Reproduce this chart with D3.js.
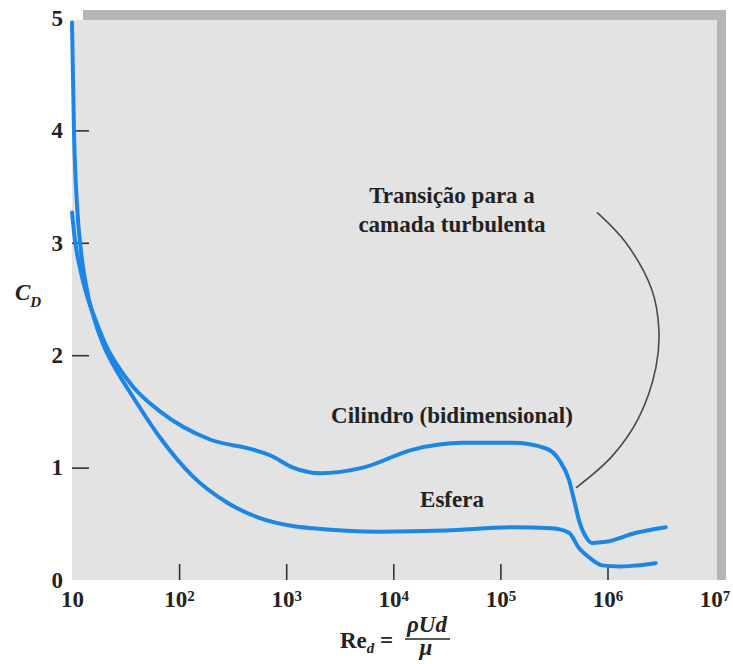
<!DOCTYPE html>
<meta charset="utf-8">
<body style="margin:0;background:#fff">
<svg id="chart" width="733" height="664"></svg>
<script src="https://cdnjs.cloudflare.com/ajax/libs/d3/7.8.5/d3.min.js"></script>
<script>

// values (Re_d, C_D)
var cylRe = [10, 10.67, 11.9, 13.8, 16.8, 20.7, 26.9, 37.1, 66.3, 194, 490, 706, 1157, 2070, 5210, 15300, 44700, 131000, 267000, 353000, 437000, 488000, 542000, 631000, 718000, 968000, 1850000, 3500000]
var cylCd = [3.27, 3.02, 2.77, 2.53, 2.30, 2.09, 1.90, 1.72, 1.50, 1.25, 1.16, 1.11, 1.0, 0.95, 1.0, 1.16, 1.22, 1.22, 1.17, 1.07, 0.89, 0.71, 0.53, 0.38, 0.33, 0.34, 0.42, 0.47]

var sphRe = [10, 10.44, 11.13, 12.14, 13.8, 16.4, 20.3, 25.8, 34.8, 66, 135, 280, 569, 1150, 1780, 7400, 31000, 129000, 302000, 437000, 537000, 676000, 891000, 1290000, 1860000, 2820000]
var sphCd = [4.96, 3.98, 3.34, 2.92, 2.58, 2.30, 2.06, 1.87, 1.67, 1.27, 0.92, 0.69, 0.55, 0.48, 0.46, 0.43, 0.44, 0.47, 0.46, 0.42, 0.29, 0.20, 0.13, 0.12, 0.13, 0.15]

// the thin pointer from the "transition" note down to the cylinder curve
var noteRe = [798000, 1486000, 2600000, 3020000, 2830000, 1970000, 1100000, 508000]
var noteCd = [3.27, 3.0, 2.58, 2.22, 1.89, 1.45, 1.10, 0.82]

var xTicks = [10, 1e2, 1e3, 1e4, 1e5, 1e6, 1e7]
var xExp = ['', '2', '3', '4', '5', '6', '7']
var yTicks = [0, 1, 2, 3, 4, 5]

var blue = '#1c86e4'
var serif = "'Liberation Serif', 'Times New Roman', serif"

var svg = d3.select('#chart')

var x = d3.scaleLog().domain([10, 1e7]).range([72, 714.6])
var y = d3.scaleLinear().domain([0, 5]).range([580, 18])

// background panel and the grey "shadow" bands
svg.append('rect').attr('x', 72).attr('y', 20).attr('width', 645).attr('height', 560).attr('fill', '#e3e3e3')
svg.append('rect').attr('x', 83).attr('y', 10).attr('width', 643).attr('height', 10).attr('fill', '#b5b5b5')
svg.append('rect').attr('x', 717).attr('y', 10).attr('width', 9).attr('height', 570).attr('fill', '#b5b5b5')

// y axis
var gy = svg.append('g')
  .attr('transform', 'translate(72,0)')
  .call(d3.axisLeft(y).tickValues(yTicks).tickSizeInner(-17).tickSizeOuter(0).tickPadding(9).tickFormat(d3.format('d')))
gy.select('.domain').remove()
gy.selectAll('.tick line').attr('stroke', '#333').attr('stroke-width', 1.6)
  .filter(d => d == 0 || d == 5).remove()
gy.selectAll('.tick text').attr('font-family', serif).attr('font-size', 23).attr('font-weight', 'bold').attr('fill', '#222')

// x axis
var gx = svg.append('g')
  .attr('transform', 'translate(0,580)')
  .call(d3.axisBottom(x).tickValues(xTicks).tickSizeInner(-16).tickSizeOuter(0).tickPadding(11))
gx.select('.domain').remove()
gx.selectAll('.tick line').attr('stroke', '#333').attr('stroke-width', 1.6)
  .filter(d => d == 10 || d == 1e7).remove()
gx.selectAll('.tick text')
  .attr('font-family', serif).attr('font-size', 23).attr('font-weight', 'bold').attr('fill', '#222')
  .text('')
  .each(function (d, i) {
    var t = d3.select(this)
    t.append('tspan').text('10')
    if (xExp[i]) t.append('tspan').attr('dy', '-0.45em').attr('font-size', 15).text(xExp[i])
  })

// curves
var line = d3.line()
  .x(d => x(d[0]))
  .y(d => y(d[1]))
  .curve(d3.curveMonotoneX)

svg.append('path')
  .datum(cylRe.map((r, i) => [r, cylCd[i]]))
  .attr('d', line)
  .attr('fill', 'none').attr('stroke', blue).attr('stroke-width', 4).attr('stroke-linecap', 'round')

svg.append('path')
  .datum(sphRe.map((r, i) => [r, sphCd[i]]))
  .attr('d', line)
  .attr('fill', 'none').attr('stroke', blue).attr('stroke-width', 4).attr('stroke-linecap', 'round')

var noteLine = d3.line()
  .x(d => x(d[0]))
  .y(d => y(d[1]))
  .curve(d3.curveCatmullRom.alpha(0.5))

svg.append('path')
  .datum(noteRe.map((r, i) => [r, noteCd[i]]))
  .attr('d', noteLine)
  .attr('fill', 'none').attr('stroke', '#4a4a4a').attr('stroke-width', 1.6)

// text labels
function label(txt, px, py) {
  svg.append('text')
    .attr('x', px).attr('y', py)
    .attr('text-anchor', 'middle')
    .attr('font-family', serif).attr('font-size', 23).attr('font-weight', 'bold').attr('fill', '#222')
    .text(txt)
}
label('Transição para a', 452, 203)
label('camada turbulenta', 452, 232)
label('Cilindro (bidimensional)', 452, 423)
label('Esfera', 452, 507)

// C_D
var cd = svg.append('text')
  .attr('x', 15).attr('y', 300)
  .attr('font-family', serif).attr('font-style', 'italic').attr('font-weight', 'bold').attr('fill', '#222')
cd.append('tspan').attr('font-size', 23).text('C')
cd.append('tspan').attr('font-size', 15).attr('dy', 7).text('D')

// Re_d = rho U d / mu
var re = svg.append('text')
  .attr('x', 340).attr('y', 648)
  .attr('font-family', serif).attr('font-weight', 'bold').attr('fill', '#222')
re.append('tspan').attr('font-size', 23).text('Re')
re.append('tspan').attr('font-size', 15).attr('font-style', 'italic').attr('dy', 5).text('d')
re.append('tspan').attr('font-size', 23).attr('dy', -5).text(' =')

svg.append('text')
  .attr('x', 427).attr('y', 632)
  .attr('text-anchor', 'middle')
  .attr('font-family', serif).attr('font-size', 23).attr('font-style', 'italic').attr('font-weight', 'bold').attr('fill', '#222')
  .text('ρUd')
svg.append('line')
  .attr('x1', 405).attr('x2', 450).attr('y1', 639).attr('y2', 639)
  .attr('stroke', '#222').attr('stroke-width', 1.6)
svg.append('text')
  .attr('x', 426).attr('y', 655)
  .attr('text-anchor', 'middle')
  .attr('font-family', serif).attr('font-size', 23).attr('font-style', 'italic').attr('font-weight', 'bold').attr('fill', '#222')
  .text('μ')

</script>
</body>
